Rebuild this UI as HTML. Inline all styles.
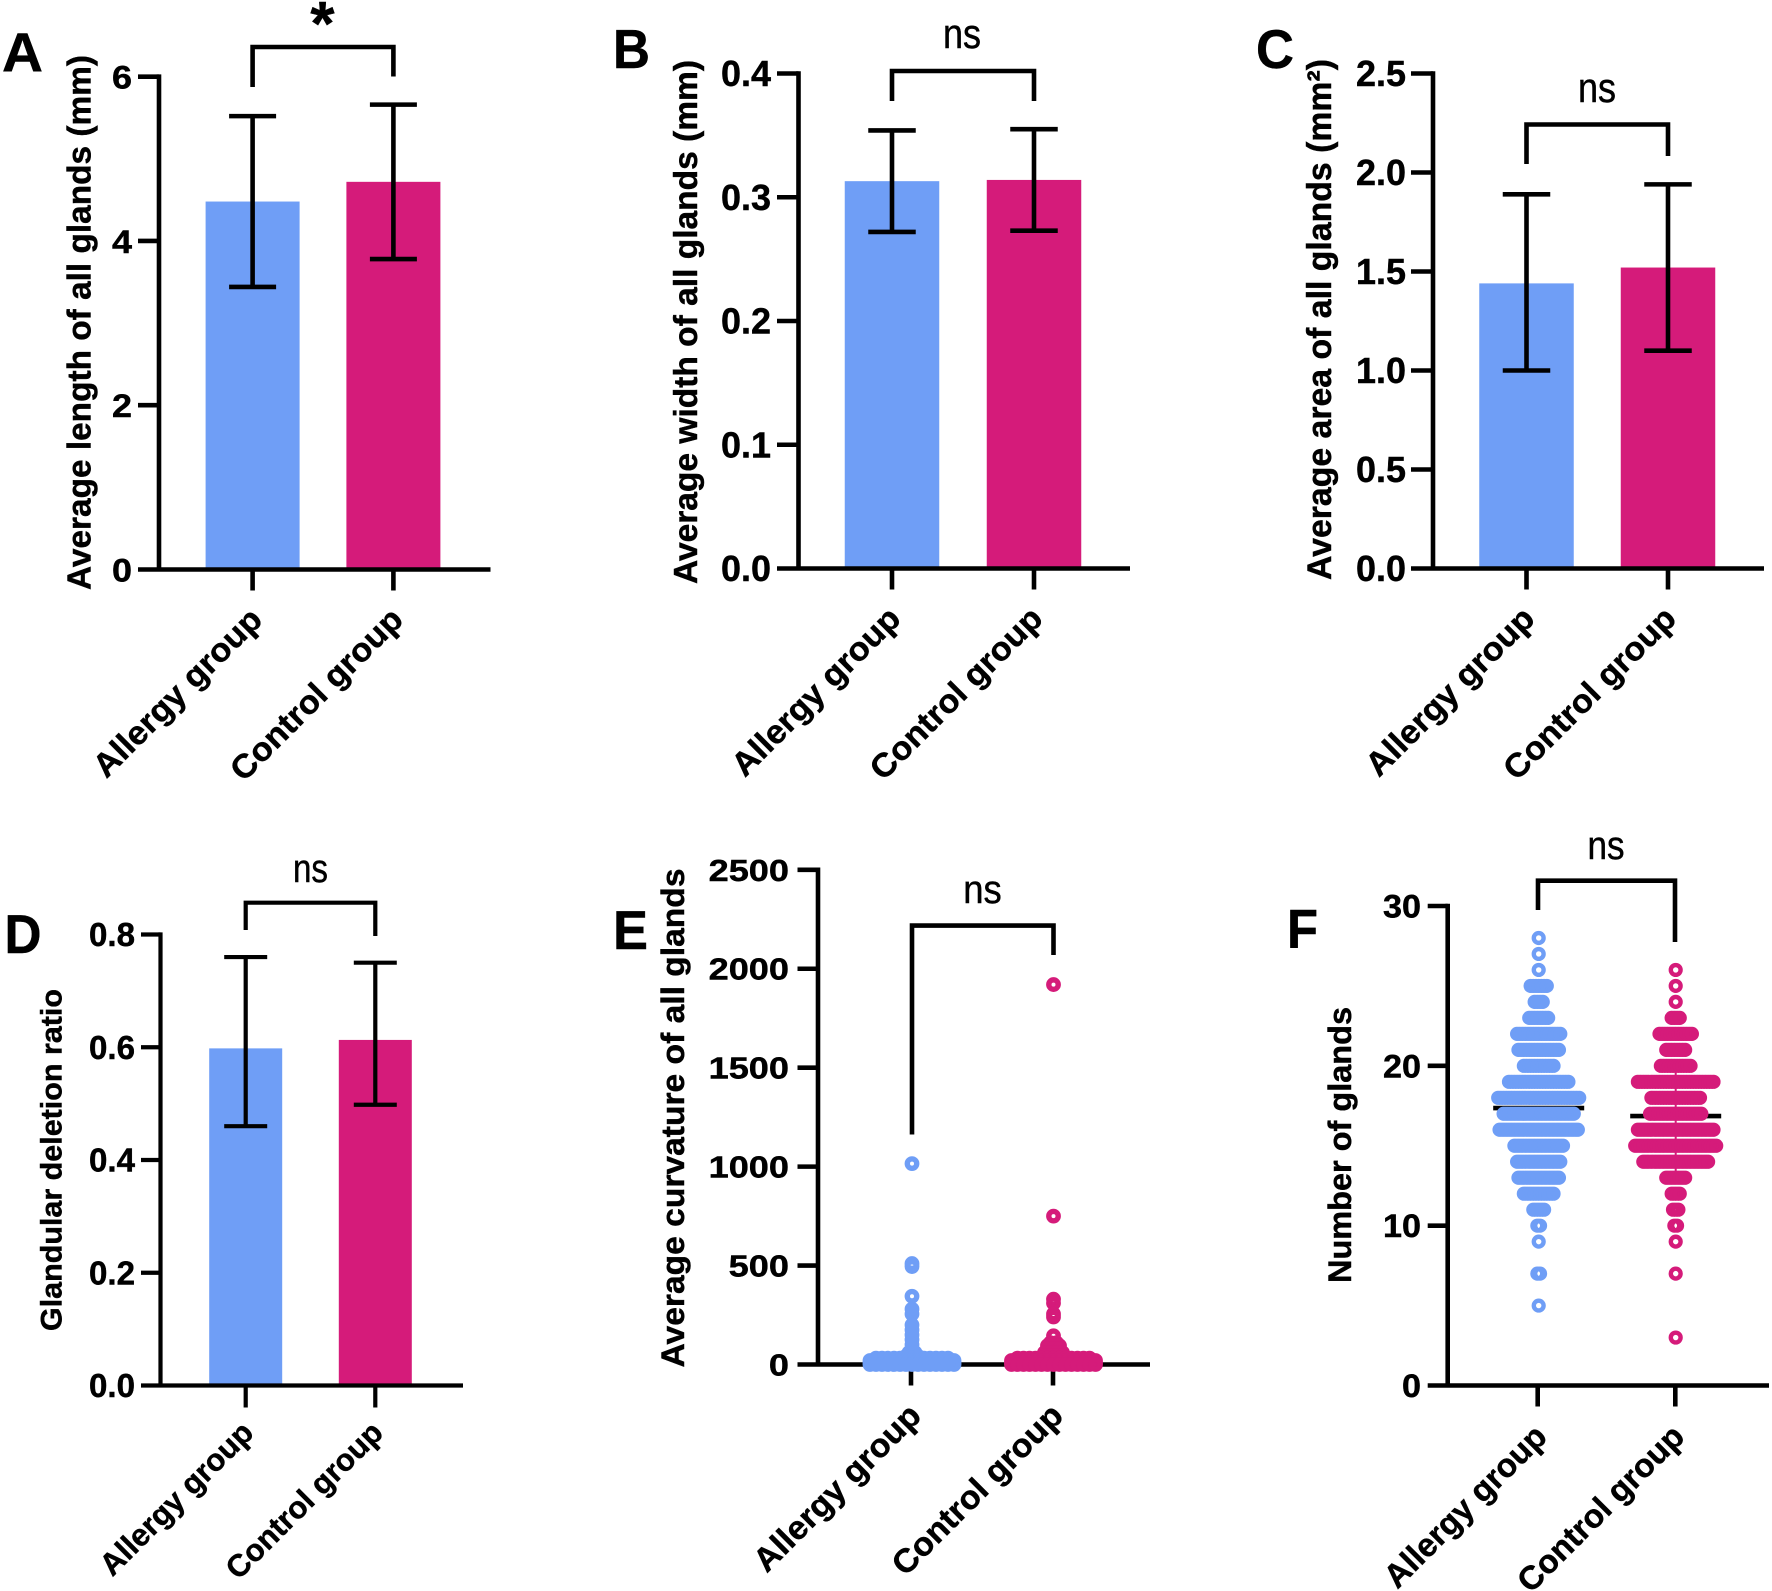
<!DOCTYPE html>
<html lang="en">
<head>
<meta charset="utf-8">
<title>Meibomian gland comparison panels</title>
<style>
html,body{margin:0;padding:0;background:#fff;}
body{width:1772px;height:1591px;overflow:hidden;}
svg{display:block;font-family:"Liberation Sans",Arial,sans-serif;}
</style>
</head>
<body>
<svg id="figure" xmlns="http://www.w3.org/2000/svg" width="1772" height="1591" viewBox="0 0 1772 1591"></svg>
<script>
const categories = ['Allergy group', 'Control group'];

const lengthTicks = [0, 2, 4, 6];
const lengthTickLabels = ['0', '2', '4', '6'];
const lengthMeans = [4.48, 4.72];
const lengthLower = [3.44, 3.78];
const lengthUpper = [5.52, 5.66];

const widthTicks = [0, 0.1, 0.2, 0.3, 0.4];
const widthTickLabels = ['0.0', '0.1', '0.2', '0.3', '0.4'];
const widthMeans = [0.313, 0.314];
const widthLower = [0.272, 0.273];
const widthUpper = [0.354, 0.355];

const areaTicks = [0, 0.5, 1, 1.5, 2, 2.5];
const areaTickLabels = ['0.0', '0.5', '1.0', '1.5', '2.0', '2.5'];
const areaMeans = [1.44, 1.52];
const areaLower = [1.0, 1.1];
const areaUpper = [1.89, 1.94];

const deletionTicks = [0, 0.2, 0.4, 0.6, 0.8];
const deletionTickLabels = ['0.0', '0.2', '0.4', '0.6', '0.8'];
const deletionMeans = [0.598, 0.613];
const deletionLower = [0.46, 0.498];
const deletionUpper = [0.76, 0.75];

const curvatureTicks = [0, 500, 1000, 1500, 2000, 2500];
const curvatureTickLabels = ['0', '500', '1000', '1500', '2000', '2500'];
const allergyCurvatureLevels = [1015, 510, 495, 345, 280, 255, 200, 175, 150, 125, 100, 80, 60, 42, 32, 20, 8, 0];
const allergyCurvatureCounts = [1, 1, 1, 1, 1, 1, 1, 1, 1, 1, 1, 1, 2, 3, 13, 15, 15, 15];
const controlCurvatureLevels = [1920, 750, 330, 310, 255, 240, 145, 110, 95, 80, 60, 45, 32, 20, 8, 0];
const controlCurvatureCounts = [1, 1, 1, 1, 1, 1, 1, 2, 3, 3, 4, 4, 13, 15, 15, 15];

const glandTicks = [0, 10, 20, 30];
const glandTickLabels = ['0', '10', '20', '30'];
const allergyGlandLevels = [28, 27, 26, 25, 24, 23, 22, 21, 20, 19, 18, 17, 16, 15, 14, 13, 12, 11, 10, 9, 7, 5];
const allergyGlandCounts = [1, 1, 1, 7, 4, 8, 17, 16, 12, 23, 31, 27, 30, 19, 17, 16, 12, 5, 2, 1, 2, 1];
const controlGlandLevels = [26, 25, 24, 23, 22, 21, 20, 19, 18, 17, 16, 15, 14, 13, 12, 11, 10, 9, 7, 3];
const controlGlandCounts = [1, 1, 1, 4, 13, 8, 12, 29, 19, 20, 29, 31, 25, 8, 4, 3, 2, 1, 1, 1];
const glandMeans = [17.36, 16.86];
const glandControlLower = [13.4];
const glandControlUpper = [19.6];

const BLUE = '#6f9ef6';
const PINK = '#d51b7a';
const svg = document.getElementById('figure');
const NS = 'http://www.w3.org/2000/svg';

function node(tag, props, parent) {
  const el = document.createElementNS(NS, tag);
  for (const k in props) el.setAttribute(k, props[k]);
  parent.appendChild(el);
  return el;
}
function stroke(x1, y1, x2, y2, w, parent) {
  return node('line', {x1: x1, y1: y1, x2: x2, y2: y2, stroke: '#000', 'stroke-width': w}, parent);
}
function label(str, x, y, size, weight, anchor, len, parent, rot) {
  const props = {x: x, y: y, 'font-size': size, 'font-weight': weight, 'text-anchor': anchor, fill: '#000', stroke: '#000', 'stroke-width': 0.45};
  if (len) { props.textLength = len; props.lengthAdjust = 'spacingAndGlyphs'; }
  if (rot) props.transform = 'rotate(' + rot + ' ' + x + ' ' + y + ')';
  const el = node('text', props, parent);
  el.textContent = str;
  return el;
}

function drawFrame(p) {
  const g = node('g', {}, svg);
  
  
  const yOf = v => p.y0 - (v / p.yMax) * (p.y0 - p.yTop);
  p.yOf = yOf;
  p.g = g;

  const letter = label(p.id.toUpperCase(), p.letterX, p.letterY, p.letterSize, 700, 'start', p.letterW, g);
  
  

  const title = label(p.title, p.titleX, p.titleY, p.titleSize, 700, 'start', p.titleLen, g, -90);
  
  
  return g;
}

function drawAxes(p) {
  const g = p.g, w = p.sw;
  const yAxis = stroke(p.axisX, p.yTop - w / 2, p.axisX, p.y0, w, g);
  
  
  const xAxis = stroke(p.tickLeft, p.y0, p.xEnd, p.y0, w, g);
  
  
  p.ticks.forEach((t, i) => {
    const y = p.yOf(t);
    if (t !== 0) {
      const tk = stroke(p.tickLeft, y, p.axisX, y, w, g);
      
      
    }
    const len = p.tickLabels[i].length * p.tickCharW - (p.tickLabels[i].indexOf('.') >= 0 ? p.tickCharW * 0.5 : 0);
    const tl = label(p.tickLabels[i], p.tickLabelX, y + p.tickDy, p.tickSize, 700, 'end', len, g);
    
    
  });
  categories.forEach((c, i) => {
    const x = p.catX[i];
    const tk = stroke(x, p.y0, x, p.y0 + p.xTickLen, w, g);
    
    
    const tl = label(c, x + p.catDx, p.y0 + p.catDy, p.catSize, 700, 'end', p.catLen[i], g, -45);
    
    
  });
}

function drawBars(p, means, lower, upper) {
  means.forEach((m, i) => {
    const cx = p.catX[i];
    const bar = node('rect', {x: cx - p.barW / 2, y: p.yOf(m), width: p.barW, height: p.y0 - p.yOf(m), fill: i ? PINK : BLUE}, p.g);
    
    
  });
  means.forEach((m, i) => {
    const cx = p.catX[i];
    const e = node('g', {}, p.g);
    
    
    stroke(cx, p.yOf(upper[i]), cx, p.yOf(lower[i]), p.sw, e);
    stroke(cx - p.capW / 2, p.yOf(upper[i]), cx + p.capW / 2, p.yOf(upper[i]), p.sw, e);
    stroke(cx - p.capW / 2, p.yOf(lower[i]), cx + p.capW / 2, p.yOf(lower[i]), p.sw, e);
  });
}

function drawSwarm(p, i, levels, counts, dx, r, sw) {
  const g = node('g', {}, p.g);
  
  
  const cx = p.swarmX[i];
  levels.forEach((v, k) => {
    const n = counts[k];
    for (let j = 0; j < n; j++) {
      const c = node('circle', {cx: cx + (j - (n - 1) / 2) * dx, cy: p.yOf(v), r: r, fill: 'none', stroke: i ? PINK : BLUE, 'stroke-width': sw}, g);
      
      
    }
  });
}

function drawBracket(p) {
  const b = p.bracket;
  const path = node('path', {
    d: 'M' + b.x1 + ' ' + b.yLeft + 'V' + b.top + 'H' + b.x2 + 'V' + b.yRight,
    fill: 'none', stroke: '#000', 'stroke-width': p.sw
  }, p.g);
  
  
  const t = label(b.text, b.textX, b.textY, b.textSize, b.textWeight, 'middle', b.textLen, p.g);
  
  
}

const panelA = {id: 'a', title: 'Average length of all glands (mm)', ticks: lengthTicks, tickLabels: lengthTickLabels,
  yMax: 6, y0: 569.5, yTop: 76.7, axisX: 159, tickLeft: 138, xEnd: 490.5, sw: 4.6, xTickLen: 21,
  catX: [252.6, 393.4], barW: 94, capW: 47, tickLabelX: 132, tickSize: 32, tickCharW: 20, tickDy: 12,
  catDx: 11.5, catDy: 52, catSize: 33, catLen: [223, 228],
  titleX: 90.5, titleY: 590, titleSize: 33, titleLen: 535,
  letterX: 2, letterY: 71, letterSize: 55, letterW: 41,
  bracket: {x1: 252.6, x2: 393.4, top: 47, yLeft: 87, yRight: 76.5, text: '*', textX: 322.5, textY: 45, textSize: 62, textWeight: 700, textLen: 0}};

const panelB = {id: 'b', title: 'Average width of all glands (mm)', ticks: widthTicks, tickLabels: widthTickLabels,
  yMax: 0.4, y0: 568.5, yTop: 73.5, axisX: 798.5, tickLeft: 777, xEnd: 1130, sw: 4.6, xTickLen: 21,
  catX: [892, 1034], barW: 94.5, capW: 47.5, tickLabelX: 771, tickSize: 36, tickCharW: 20, tickDy: 12.5,
  catDx: 10.5, catDy: 52, catSize: 33, catLen: [223, 228],
  titleX: 697, titleY: 584, titleSize: 33, titleLen: 524,
  letterX: 613, letterY: 68, letterSize: 55, letterW: 37,
  bracket: {x1: 892, x2: 1034, top: 71, yLeft: 101, yRight: 101, text: 'ns', textX: 962, textY: 48, textSize: 42, textWeight: 400, textLen: 38}};

const panelC = {id: 'c', title: 'Average area of all glands (mm\u00B2)', ticks: areaTicks, tickLabels: areaTickLabels,
  yMax: 2.5, y0: 568.5, yTop: 73.5, axisX: 1433, tickLeft: 1411, xEnd: 1764, sw: 4.6, xTickLen: 21,
  catX: [1526.5, 1668], barW: 94.5, capW: 47.5, tickLabelX: 1406, tickSize: 36, tickCharW: 20, tickDy: 12.5,
  catDx: 10, catDy: 52, catSize: 33, catLen: [223, 228],
  titleX: 1331, titleY: 580, titleSize: 34, titleLen: 521,
  letterX: 1256, letterY: 68, letterSize: 55, letterW: 38,
  bracket: {x1: 1526.5, x2: 1668, top: 124.5, yLeft: 164, yRight: 156, text: 'ns', textX: 1597, textY: 102, textSize: 42, textWeight: 400, textLen: 38}};

const panelD = {id: 'd', title: 'Glandular deletion ratio', ticks: deletionTicks, tickLabels: deletionTickLabels,
  yMax: 0.8, y0: 1385.5, yTop: 934.5, axisX: 160.5, tickLeft: 141, xEnd: 463, sw: 4.2, xTickLen: 22,
  catX: [245.7, 375.3], barW: 73, capW: 43, tickLabelX: 135, tickSize: 33, tickCharW: 18.4, tickDy: 11.5,
  catDx: 9.5, catDy: 49, catSize: 31, catLen: [202, 207],
  titleX: 61.5, titleY: 1331, titleSize: 30, titleLen: 342,
  letterX: 4.5, letterY: 953, letterSize: 55, letterW: 37,
  bracket: {x1: 245.7, x2: 375.3, top: 902.7, yLeft: 930, yRight: 936, text: 'ns', textX: 310.5, textY: 882, textSize: 40, textWeight: 400, textLen: 35}};

const panelE = {id: 'e', title: 'Average curvature of all glands', ticks: curvatureTicks, tickLabels: curvatureTickLabels,
  yMax: 2500, y0: 1364.5, yTop: 869.8, axisX: 818, tickLeft: 797.5, xEnd: 1150, sw: 4.6, xTickLen: 21,
  catX: [911, 1053], swarmX: [912, 1053.5], tickLabelX: 789, tickSize: 31, tickCharW: 20.1, tickDy: 11,
  catDx: 12, catDy: 53, catSize: 33, catLen: [221, 226],
  titleX: 684, titleY: 1367.5, titleSize: 32, titleLen: 499,
  letterX: 613, letterY: 949, letterSize: 55, letterW: 35,
  bracket: {x1: 912, x2: 1053.5, top: 925.6, yLeft: 1134.5, yRight: 955, text: 'ns', textX: 982.5, textY: 903, textSize: 40, textWeight: 400, textLen: 38.5}};

const panelF = {id: 'f', title: 'Number of glands', ticks: glandTicks, tickLabels: glandTickLabels,
  yMax: 30, y0: 1385.5, yTop: 906, axisX: 1447.7, tickLeft: 1427.7, xEnd: 1769, sw: 4.6, xTickLen: 21,
  catX: [1537.7, 1675.3], swarmX: [1538.7, 1675.7], tickLabelX: 1421, tickSize: 32, tickCharW: 19, tickDy: 11.5,
  catDx: 11, catDy: 53, catSize: 33, catLen: [214, 220],
  titleX: 1351, titleY: 1283, titleSize: 32, titleLen: 276,
  letterX: 1287, letterY: 948, letterSize: 55, letterW: 31,
  bracket: {x1: 1538, x2: 1675, top: 880.7, yLeft: 910, yRight: 942, text: 'ns', textX: 1606, textY: 859, textSize: 40, textWeight: 400, textLen: 37}};

drawFrame(panelA);
drawBars(panelA, lengthMeans, lengthLower, lengthUpper);
drawAxes(panelA);
drawBracket(panelA);

drawFrame(panelB);
drawBars(panelB, widthMeans, widthLower, widthUpper);
drawAxes(panelB);
drawBracket(panelB);

drawFrame(panelC);
drawBars(panelC, areaMeans, areaLower, areaUpper);
drawAxes(panelC);
drawBracket(panelC);

drawFrame(panelD);
drawBars(panelD, deletionMeans, deletionLower, deletionUpper);
drawAxes(panelD);
drawBracket(panelD);

drawFrame(panelE);
drawAxes(panelE);
drawBracket(panelE);
drawSwarm(panelE, 0, allergyCurvatureLevels, allergyCurvatureCounts, 6, 4.7, 5.4);
drawSwarm(panelE, 1, controlCurvatureLevels, controlCurvatureCounts, 6, 4.7, 5.4);

drawFrame(panelF);
drawAxes(panelF);
drawBracket(panelF);
glandMeans.forEach((m, i) => {
  const cx = panelF.swarmX[i];
  const line = stroke(cx - 45.5, panelF.yOf(m), cx + 45.5, panelF.yOf(m), 4.6, panelF.g);
  
  
});
const sdLine = node('line', {x1: panelF.swarmX[1], x2: panelF.swarmX[1], y1: panelF.yOf(glandControlUpper[0]), y2: panelF.yOf(glandControlLower[0]), stroke: PINK, 'stroke-width': 2}, panelF.g);


drawSwarm(panelF, 0, allergyGlandLevels, allergyGlandCounts, 2.7, 4.9, 4.4);
drawSwarm(panelF, 1, controlGlandLevels, controlGlandCounts, 2.7, 4.9, 4.4);
</script>
</body>
</html>
